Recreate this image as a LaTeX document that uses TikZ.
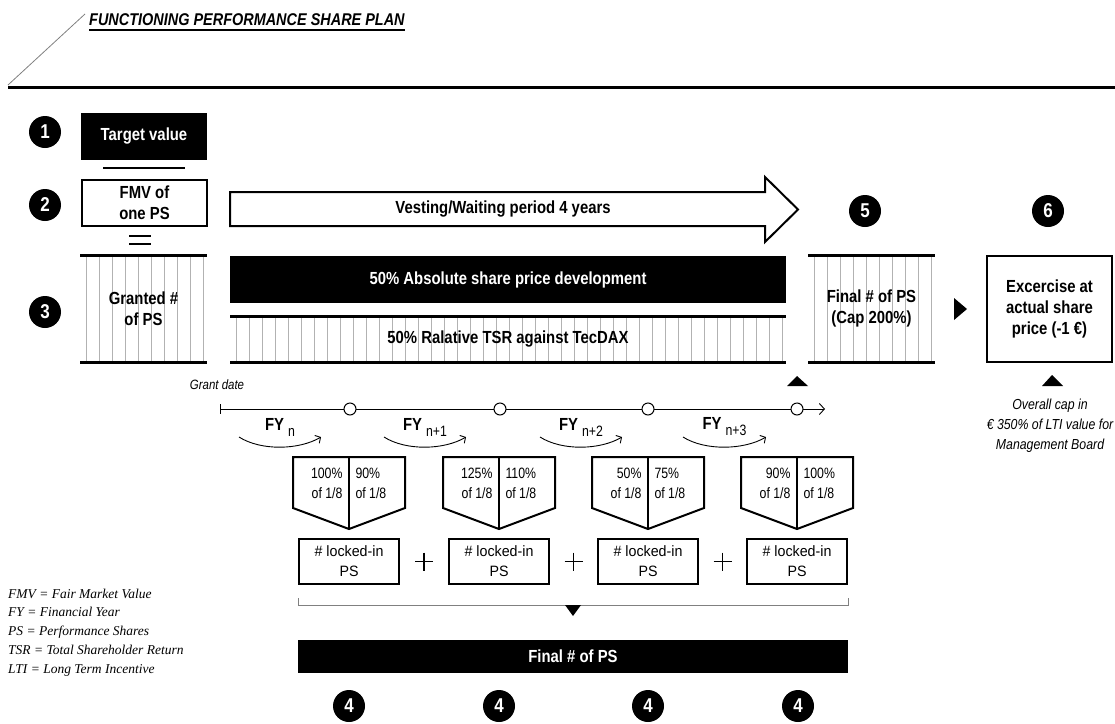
\documentclass[tikz,border=0pt]{standalone}
\usepackage{fontspec}
\setmainfont{Liberation Sans}
\newfontfamily\condfont{Liberation Sans}[FakeStretch=0.85]
\newfontfamily\narrowfont{Liberation Sans}[FakeStretch=0.95]
\newfontfamily\slimfont{Liberation Sans}[FakeStretch=0.82]
\newfontfamily\notefont{Liberation Serif}
\usetikzlibrary{arrows.meta}

\newcommand\boxfont{\condfont\bfseries\fontsize{17.5}{21}\selectfont}
\newcommand\circfont{\condfont\bfseries\fontsize{20}{20}\selectfont}
\newcommand\pentfont{\slimfont\mdseries\fontsize{15}{20}\selectfont}
\newcommand\lockfont{\narrowfont\fontsize{15}{20}\selectfont}
\newcommand\capnotefont{\condfont\itshape\fontsize{14.5}{20}\selectfont}

\tikzset{
  blackbar/.style={fill=black, text=white, inner sep=0, font=\boxfont},
  framebox/.style={draw, line width=2, fill=white, inner sep=0, align=center, font=\boxfont},
  hatchline/.style={black!30, line width=0.8},
  barline/.style={line width=3},
  numdot/.style={circle, fill=black, text=white, minimum size=32, inner sep=0, font=\circfont},
  pentline/.style={draw, line width=2, line join=miter},
  lockbox/.style={draw, line width=2, minimum width=100, minimum height=45, inner sep=0, align=center, font=\lockfont},
  tdot/.style={circle, draw, line width=1, fill=white, minimum size=12, inner sep=0},
  fyarrow/.style={line width=0.9, -{Straight Barb[length=4pt, width=9pt]}}
}

\begin{document}
\begin{tikzpicture}[x=1pt, y=-1pt]
\useasboundingbox (0,0) rectangle (1115,723);

% heading
\draw[gray, line width=0.8] (8,85) -- (85,14);
\node[anchor=base west, inner sep=0, font=\condfont\bfseries\itshape\fontsize{17}{19}\selectfont] (title) at (89,25) {FUNCTIONING PERFORMANCE SHARE PLAN};
\draw[line width=1.5] ([yshift=-5pt]title.base west) -- ([yshift=-5pt]title.base east);
\draw[line width=3] (8,87) -- (1115,87);

% steps 1 to 3
\node[numdot] (n1) at (45,132) {1};
\node[numdot] (n2) at (45,205) {2};
\node[numdot] (n3) at (45,312) {3};
\node[blackbar, minimum width=126, minimum height=47] (target) at (144,136.5) {Target value};
\draw[line width=2] (103,168) -- (185,168);
\node[framebox, minimum width=125, minimum height=46] (fmv) at (144.5,203) {FMV of\\one PS};
\draw[line width=2] (129,236) -- (151,236) (129,244) -- (151,244);
\foreach \x in {86,99,...,203} \draw[hatchline] (\x,256) -- (\x,361);
\draw[barline] (80,255) -- (207,255) (80,362) -- (207,362);
\node[font=\boxfont, align=center] (granted) at (143.5,309) {Granted \#\\of PS};

% vesting period
\draw[line width=2, fill=white, line join=miter] (230,192) -- (765,192) -- (765,177) -- (798,209.5) -- (765,242) -- (765,226) -- (230,226) -- cycle;
\node[font=\boxfont] (vesting) at (503,209) {Vesting/Waiting period 4 years};
\node[blackbar, minimum width=556, minimum height=47] (absolute) at (508,279.5) {50\% Absolute share price development};
\foreach \x in {236,249,...,782} \draw[hatchline] (\x,317) -- (\x,361);
\draw[barline] (230,316) -- (786,316) (230,362) -- (786,362);
\node[font=\boxfont] (relative) at (508,339) {50\% Ralative TSR against TecDAX};

% steps 5 and 6
\node[numdot] (n5) at (865,211) {5};
\node[numdot] (n6) at (1048,211) {6};
\foreach \x in {814,827,...,931} \draw[hatchline] (\x,256) -- (\x,361);
\draw[barline] (808,255) -- (935,255) (808,362) -- (935,362);
\node[font=\boxfont, align=center] (finalcap) at (871.5,308) {Final \# of PS\\(Cap 200\%)};
\fill (954,298) -- (967,309) -- (954,320) -- cycle;
\node[framebox, minimum width=125, minimum height=106] (exercise) at (1049.5,309) {Excercise at\\actual share\\price (-1 €)};
\fill (1042,386) -- (1052,375) -- (1063,386) -- cycle;
\node[font=\capnotefont, align=center] (capnote) at (1050,426) {Overall cap in\\€ 350\% of LTI value for\\Management Board};

% time line
\node[font=\condfont\itshape\fontsize{13.5}{15}\selectfont] (grant) at (217,385) {Grant date};
\fill (787,386) -- (797,376) -- (808,386) -- cycle;
\coordinate (t0) at (220,409);
\coordinate (tend) at (825,409);
\draw[line width=0.9, -{Straight Barb[length=5pt, width=11pt]}] (t0) -- (tend);
\draw[line width=0.9] (220,404) -- (220,414);
\foreach \x [count=\i] in {350,500,648,797} \node[tdot] (t\i) at (\x,409) {};

% financial years
\foreach \a/\b/\s [count=\i] in {239/321/n, 384/466/n+1, 540/622/n+2, 683/766/n+3}{
  \node[font=\boxfont] (fy\i) at ({(\a+\b)/2},427) {FY\hspace{4pt}\raisebox{-6pt}{\pentfont\s}};
  \draw[fyarrow] (\a,437) .. controls (\a+22,451) and (\b-22,450) .. (\b,437);
}

% yearly targets
\foreach \s/\p/\q [count=\i] in {349/100\%/90\%, 499/125\%/110\%, 648/50\%/75\%, 797/90\%/100\%}{
  \draw[pentline] (\s-56,457) -- (\s+56,457) -- (\s+56,508) -- (\s,529) -- (\s-56,508) -- cycle;
  \draw[line width=2] (\s,457) -- (\s,529);
  \node[font=\pentfont, align=right, anchor=east] (pl\i) at (\s-3,483) {\p\\of 1/8};
  \node[font=\pentfont, align=left, anchor=west] (pr\i) at (\s+3,483) {\q\\of 1/8};
  \node[lockbox] (lock\i) at (\s,561.5) {\# locked-in\\PS};
}
\foreach \x in {424,573.5,722.5} \draw[line width=1.3] (\x-9,561.5) -- (\x+9,561.5) (\x,552.5) -- (\x,570.5);

% sum
\draw[gray, line width=1] (298,598) -- (298,605) -- (848,605) -- (848,598);
\fill (565,605) -- (581,605) -- (573,616) -- cycle;
\node[blackbar, minimum width=550, minimum height=33] (final) at (573,656.5) {Final \# of PS};
\foreach \x [count=\i] in {349,499,648,798} \node[numdot] (four\i) at (\x,706) {4};

% abbreviations
\node[anchor=west, inner sep=0, align=left, font=\notefont\itshape\fontsize{13.5}{18.8}\selectfont] (legend) at (8,632.5) {FMV = Fair Market Value\\FY = Financial Year\\PS = Performance Shares\\TSR = Total Shareholder Return\\LTI = Long Term Incentive};
\end{tikzpicture}
\end{document}
